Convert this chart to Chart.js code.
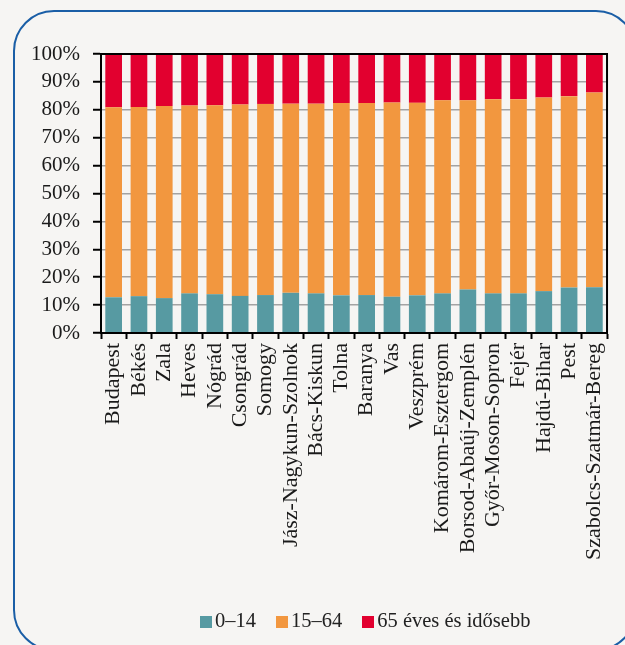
<!DOCTYPE html>
<html>
<head>
<meta charset="utf-8">
<script src="https://cdn.jsdelivr.net/npm/chart.js@4/dist/chart.umd.min.js"></script>
<style>
  html, body { margin: 0; padding: 0; background: #f6f5f3; }
  #wrap { position: relative; width: 625px; height: 645px; overflow: hidden; }
  #legend {
    position: absolute; top: 609px; left: 190px;
    font: 20.5px "Liberation Serif", serif; color: #222;
    white-space: nowrap;
  }
  #legend span.item { display: inline-block; margin: 0 10px; }
  #legend i { display: inline-block; width: 12px; height: 12px; margin-right: 3px; vertical-align: -1px; }
</style>
</head>
<body>
<div id="wrap">
  <canvas id="ageChart" width="625" height="645"></canvas>
  <div id="legend"></div>
</div>
<script>
// --- DATA ---
const counties = [
  'Budapest', 'Békés', 'Zala', 'Heves', 'Nógrád', 'Csongrád', 'Somogy',
  'Jász-Nagykun-Szolnok', 'Bács-Kiskun', 'Tolna', 'Baranya', 'Vas', 'Veszprém',
  'Komárom-Esztergom', 'Borsod-Abaúj-Zemplén', 'Győr-Moson-Sopron', 'Fejér',
  'Hajdú-Bihar', 'Pest', 'Szabolcs-Szatmár-Bereg'
];
const age0to14  = [12.8, 13.2, 12.5, 14.2, 13.9, 13.3, 13.6, 14.4, 14.2, 13.5, 13.6, 13.0, 13.5, 14.2, 15.6, 14.2, 14.2, 15.0, 16.3, 16.4];
const age15to64 = [68.1, 67.8, 68.9, 67.3, 67.7, 68.6, 68.5, 67.8, 68.0, 68.9, 68.8, 69.6, 69.0, 69.2, 67.8, 69.6, 69.6, 69.4, 68.6, 69.8];
const age65plus = [19.1, 19.0, 18.6, 18.5, 18.4, 18.1, 17.9, 17.8, 17.8, 17.6, 17.6, 17.4, 17.5, 16.6, 16.6, 16.2, 16.2, 15.6, 15.1, 13.8];
const seriesNames = ['0–14', '15–64', '65 éves és idősebb'];
const yTicks = [0, 10, 20, 30, 40, 50, 60, 70, 80, 90, 100];

const colors = ['#579aa2', '#f2973f', '#e2002f'];
const FONT = '"Liberation Serif", serif';

// --- PLUGINS ---
// rounded blue frame around the whole figure
const framePlugin = {
  id: 'frame',
  beforeDraw(chart) {
    const ctx = chart.ctx;
    ctx.save();
    ctx.strokeStyle = '#1a5ea6';
    ctx.lineWidth = 2;
    ctx.beginPath();
    ctx.roundRect(14, 11, 622, 639, 40);
    ctx.stroke();
    ctx.restore();
  }
};
// black box round the plot area
const plotBoxPlugin = {
  id: 'plotBox',
  afterDraw(chart) {
    const { left, top, right, bottom } = chart.chartArea;
    const ctx = chart.ctx;
    ctx.save();
    ctx.strokeStyle = '#000';
    ctx.lineWidth = 2;
    ctx.strokeRect(left, top, right - left, bottom - top);
    ctx.restore();
  }
};

// --- CHART ---
const datasets = [age0to14, age15to64, age65plus].map((vals, i) => ({
  label: seriesNames[i],
  data: vals,
  backgroundColor: colors[i],
  borderWidth: 0,
  categoryPercentage: 1,
  barPercentage: 0.66
}));

new Chart(document.getElementById('ageChart'), {
  type: 'bar',
  data: { labels: counties, datasets },
  plugins: [framePlugin, plotBoxPlugin],
  options: {
    responsive: false,
    animation: false,
    layout: { padding: { top: 54, right: 9, left: 0, bottom: 0 } },
    plugins: { legend: { display: false }, tooltip: { enabled: false } },
    scales: {
      x: {
        stacked: true,
        afterFit: s => { s.height = 312; },
        grid: { drawOnChartArea: false, offset: true, tickLength: 6, tickColor: '#000', tickWidth: 2 },
        border: { color: '#000', width: 2 },
        ticks: {
          autoSkip: false, minRotation: 90, maxRotation: 90, padding: 4,
          color: '#1a1a1a', font: { family: FONT, size: 22 }
        }
      },
      y: {
        stacked: true,
        min: 0, max: 100,
        afterFit: s => { s.width = 101; },
        afterBuildTicks: s => { s.ticks = yTicks.map(v => ({ value: v })); },
        grid: { color: '#a3a3a3', lineWidth: 1.5, tickLength: 8, tickColor: '#000', tickWidth: 2 },
        border: { color: '#000', width: 2 },
        ticks: {
          autoSkip: false, padding: 13, color: '#1a1a1a', font: { family: FONT, size: 21 },
          callback: v => v + '%'
        }
      }
    }
  }
});

// --- LEGEND ---
document.getElementById('legend').innerHTML = seriesNames
  .map((n, i) => `<span class="item"><i style="background:${colors[i]}"></i>${n}</span>`)
  .join('');
</script>
</body>
</html>
